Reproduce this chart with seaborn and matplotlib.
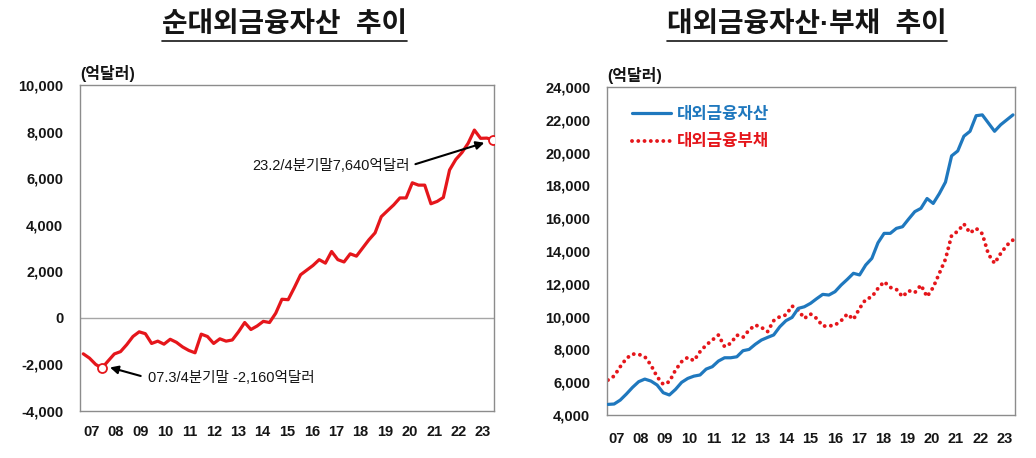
import numpy as np
import pandas as pd
import matplotlib
matplotlib.use("Agg")
import matplotlib.pyplot as plt
import seaborn as sns
from matplotlib.lines import Line2D

# ---------------- data (quarterly, 2006Q4 .. 2023Q2), 억달러 ----------------
year_labels = ['07', '08', '09', '10', '11', '12', '13', '14', '15', '16',
               '17', '18', '19', '20', '21', '22', '23']

net_assets = [-1545, -1730, -2000, -2160, -1850, -1550, -1450, -1150, -800, -600,
              -680, -1100, -1000, -1130, -920, -1050, -1250, -1400, -1500, -700,
              -800, -1100, -900, -1000, -950, -600, -200, -500, -350, -150,
              -200, 200, 800, 780, 1300, 1850, 2050, 2250, 2500, 2350,
              2850, 2500, 2400, 2750, 2650, 3000, 3350, 3650, 4345, 4600,
              4850, 5150, 5150, 5800, 5700, 5700, 4900, 5000, 5170, 6350,
              6800, 7100, 7500, 8065, 7710, 7720, 7640]

ext_assets = [4647, 4670, 4910, 5280, 5684, 6030, 6190, 6070, 5830, 5360,
              5220, 5560, 5990, 6230, 6370, 6440, 6800, 6945, 7290, 7490,
              7490, 7550, 7920, 8000, 8310, 8570, 8730, 8880, 9380, 9750,
              9950, 10500, 10600, 10807, 11090, 11356, 11315, 11520, 11925, 12270,
              12640, 12540, 13145, 13550, 14500, 15075, 15075, 15380, 15480, 15950,
              16400, 16600, 17200, 16900, 17500, 18200, 19800, 20100, 21000, 21300,
              22250, 22300, 21800, 21300, 21700, 22000, 22300]

ext_liabs = [6130, 6375, 6945, 7450, 7717, 7700, 7555, 7046, 6335, 5870,
             6030, 6740, 7250, 7515, 7310, 7860, 8265, 8570, 8875, 8165,
             8370, 8875, 8735, 9180, 9485, 9345, 9080, 9750, 9995, 10100,
             10645, 10400, 9890, 10157, 9890, 9425, 9425, 9485, 9750, 10157,
             9830, 10500, 11050, 11200, 11720, 12130, 11780, 11660, 11215, 11580,
             11460, 11925, 11215, 11780, 12640, 13500, 14950, 15200, 15650, 15100,
             15380, 15050, 13800, 13250, 13850, 14350, 14670]

n = len(net_assets)
q_idx = np.arange(n)

RED = '#E5161B'
BLUE = '#1F78BE'
TXT = '#151515'

sns.set_theme(style="white")
plt.rcParams['font.family'] = ['Liberation Sans', 'Noto Sans CJK KR']

W, H = 1036, 458
fig = plt.figure(figsize=(W / 100, H / 100), dpi=100)

def fx(px):
    return px / W

def fy(py):
    return 1 - py / H

ax1 = fig.add_axes([fx(80), fy(411), fx(494) - fx(80), fy(85) - fy(411)])
ax2 = fig.add_axes([fx(607), fy(415), fx(1015) - fx(607), fy(87) - fy(415)])

TICK_FS = 10.5

# ---------------- left chart ----------------
df_net = pd.DataFrame({'q': q_idx, 'v': net_assets})
ax1.axhline(0, color='#A6A6A6', lw=1.0, zorder=1)
sns.lineplot(data=df_net, x='q', y='v', ax=ax1, color=RED, lw=2.3, zorder=3)
mk = df_net.iloc[[3, n - 1]]
sns.scatterplot(data=mk, x='q', y='v', ax=ax1, marker='o', s=42,
                facecolor='white', edgecolor=RED, linewidth=1.3, zorder=4)

ax1.set_xlim(-0.53, n - 1 + 0.16)
ax1.set_ylim(-4000, 10000)
yt1 = list(range(-4000, 10001, 2000))
ax1.set_yticks(yt1)
ax1.set_yticklabels([f"{v:,}" for v in yt1], fontweight='bold', fontsize=TICK_FS, color=TXT)
xt1 = np.linspace(1.3, 64.4, len(year_labels))
ax1.set_xticks(xt1)
ax1.set_xticklabels(year_labels, fontweight='bold', fontsize=TICK_FS, color=TXT)
ax1.tick_params(axis='both', length=0)
ax1.tick_params(axis='y', pad=12)
ax1.tick_params(axis='x', pad=10)
ax1.set_xlabel('')
ax1.set_ylabel('')

ax1.annotate('23.2/4분기말7,640억달러', xy=(64.6, 7520), xycoords='data',
             xytext=(fx(252), fy(166)), textcoords='figure fraction',
             ha='left', va='center', fontsize=10.5, fontweight='medium', color=TXT,
             arrowprops=dict(arrowstyle='-|>', color='black', lw=1.5,
                             mutation_scale=12, relpos=(1.0, 0.5),
                             shrinkA=2, shrinkB=0))
ax1.annotate('07.3/4분기말 -2,160억달러', xy=(4.3, -2130), xycoords='data',
             xytext=(fx(148), fy(378)), textcoords='figure fraction',
             ha='left', va='center', fontsize=10.5, fontweight='medium', color=TXT,
             arrowprops=dict(arrowstyle='-|>', color='black', lw=1.5,
                             mutation_scale=12, relpos=(0.0, 0.5),
                             shrinkA=3, shrinkB=0))

# ---------------- right chart ----------------
df_ext = pd.DataFrame({'q': q_idx, 'assets': ext_assets, 'liabs': ext_liabs})
sns.lineplot(data=df_ext, x='q', y='assets', ax=ax2, color=BLUE, lw=2.3,
             zorder=3, solid_capstyle='round')
sns.lineplot(data=df_ext, x='q', y='liabs', ax=ax2, color=RED, lw=2.8,
             linestyle=(0, (0.01, 1.6)), dash_capstyle='round', zorder=2)

ax2.set_xlim(-0.16, n - 1 + 0.33)
ax2.set_ylim(4000, 24000)
yt2 = list(range(4000, 24001, 2000))
ax2.set_yticks(yt2)
ax2.set_yticklabels([f"{v:,}" for v in yt2], fontweight='bold', fontsize=TICK_FS, color=TXT)
xt2 = np.linspace(1.4, 64.6, len(year_labels))
ax2.set_xticks(xt2)
ax2.set_xticklabels(year_labels, fontweight='bold', fontsize=TICK_FS, color=TXT)
ax2.tick_params(axis='both', length=0)
ax2.tick_params(axis='y', pad=12)
ax2.tick_params(axis='x', pad=12)
ax2.set_xlabel('')
ax2.set_ylabel('')

handles = [Line2D([0], [0], color=BLUE, lw=2.3),
           Line2D([0], [0], color=RED, lw=2.8, linestyle=(0, (0.01, 1.6)),
                  dash_capstyle='round')]
leg = ax2.legend(handles, ['대외금융자산', '대외금융부채'], loc='upper left',
                 bbox_to_anchor=(0.025, 0.985), frameon=False,
                 handlelength=2.3, handletextpad=0.4, labelspacing=0.75,
                 labelcolor=[BLUE, RED], prop={'weight': 'bold', 'size': 12})

for ax in (ax1, ax2):
    for s in ax.spines.values():
        s.set_color('#8C8C8C')
        s.set_linewidth(1.0)
        s.set_visible(True)
    ax.grid(False)

# unit labels
fig.text(fx(80), fy(73), '(억달러)', ha='left', va='center', fontsize=11.5,
         fontweight='bold', color=TXT)
fig.text(fx(607), fy(75), '(억달러)', ha='left', va='center', fontsize=11.5,
         fontweight='bold', color=TXT)

# titles with underline
t1 = fig.text(fx(284), fy(25), '순대외금융자산  추이', ha='center', va='center',
              fontsize=20, fontweight='bold', color=TXT)
t2 = fig.text(fx(807), fy(25), '대외금융자산·부채  추이', ha='center', va='center',
              fontsize=20, fontweight='bold', color=TXT)
fig.canvas.draw()
r = fig.canvas.get_renderer()
for t in (t1, t2):
    bb = t.get_window_extent(r)
    fig.add_artist(Line2D([bb.x0 / W, bb.x1 / W], [fy(41), fy(41)],
                          transform=fig.transFigure, color=TXT, lw=1.2))

fig.savefig('out.png', dpi=100, facecolor='white')
